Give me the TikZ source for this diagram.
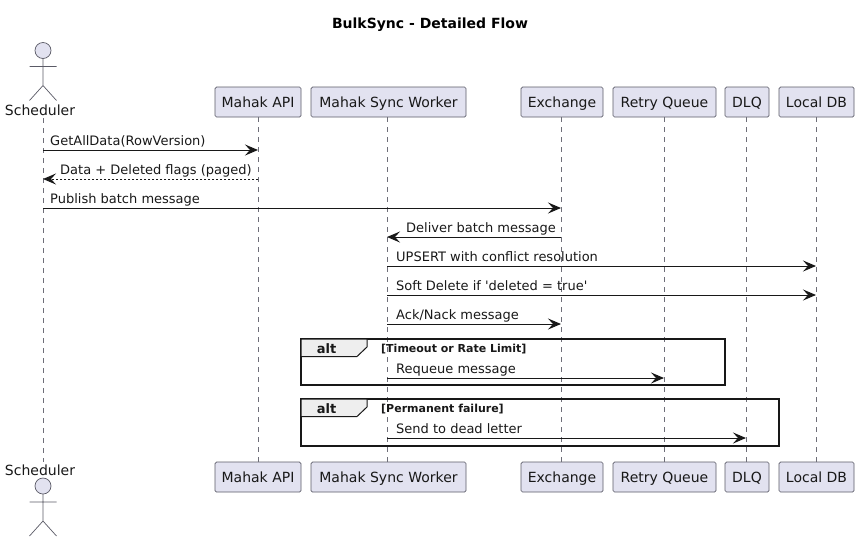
\documentclass[tikz,border=0pt]{standalone}
\usepackage{fontspec}
\setmainfont{DejaVu Sans}
\newfontfamily\rawfont{DejaVu Sans}
\usetikzlibrary{arrows.meta}
\definecolor{pfill}{HTML}{E2E2F0}
\definecolor{pline}{HTML}{5A5A66}
\definecolor{lifec}{HTML}{6E6E78}
\definecolor{ink}{HTML}{181818}
\definecolor{tabfill}{HTML}{EEEEEE}
\tikzset{
  x=1pt,y=-1pt,
  partbox/.style={draw=pline,fill=pfill,rounded corners=1.5pt,line width=0.7pt,minimum height=30pt,inner sep=0pt,text height=13pt,text depth=3pt,text=ink,font=\fontsize{14}{16}\selectfont},
  actlabel/.style={inner sep=0pt,anchor=base,text=ink,font=\fontsize{14}{16}\selectfont},
  actline/.style={draw=pline,line width=0.7pt},
  life/.style={draw=lifec,line width=0.6pt,dash pattern=on 5pt off 5pt},
  msg/.style={draw=ink,line width=1pt,-{Stealth[length=13pt,width=11pt,inset=5pt]}},
  ret/.style={msg,dash pattern=on 2pt off 2pt},
  msglabel/.style={anchor=base west,inner sep=0pt,text=ink,font=\fontsize{13}{15}\selectfont},
  frame/.style={draw=ink,line width=1.5pt},
  tab/.style={draw=ink,line width=1pt,fill=tabfill},
  altlabel/.style={inner sep=0pt,anchor=base,text=ink,font=\bfseries\fontsize{13}{15}\selectfont},
  guard/.style={inner sep=0pt,anchor=base west,text=ink,font=\bfseries\fontsize{11}{13}\selectfont}
}
\newcommand{\stickman}[2]{%
  \draw[actline,fill=pfill] (#1,#2) circle (8);
  \draw[actline] (#1,#2+8) -- (#1,#2+35) (#1-13.5,#2+16) -- (#1+13.5,#2+16) (#1-13.5,#2+50) -- (#1,#2+35) -- (#1+13.5,#2+50);
}
\begin{document}
\begin{tikzpicture}
\useasboundingbox (0,0) rectangle (859,542);
% title
\node[inner sep=0pt,anchor=base,text=black,font=\bfseries\fontsize{14}{16}\selectfont] (title) at (430,28) {BulkSync - Detailed Flow};
% rows
\coordinate (r1) at (0,150);
\coordinate (r2) at (0,179);
\coordinate (r3) at (0,208);
\coordinate (r4) at (0,237);
\coordinate (r5) at (0,266);
\coordinate (r6) at (0,295);
\coordinate (r7) at (0,324);
\coordinate (r8) at (0,378);
\coordinate (r9) at (0,438);
% life line ends
\coordinate (schT) at (43,118);
\coordinate (schB) at (43,462);
% participants
\node[partbox,minimum width=86pt] (apiT) at (258,102) {Mahak API};
\node[partbox,minimum width=155pt] (wrkT) at (388.5,102) {Mahak Sync Worker};
\node[partbox,minimum width=82pt] (excT) at (562,102) {Exchange};
\node[partbox,minimum width=103pt] (rtyT) at (664.5,102) {Retry Queue};
\node[partbox,minimum width=44pt] (dlqT) at (747,102) {DLQ};
\node[partbox,minimum width=75pt] (dbT) at (816.5,102) {Local DB};
\node[partbox,minimum width=86pt] (apiB) at (258,477) {Mahak API};
\node[partbox,minimum width=155pt] (wrkB) at (388.5,477) {Mahak Sync Worker};
\node[partbox,minimum width=82pt] (excB) at (562,477) {Exchange};
\node[partbox,minimum width=103pt] (rtyB) at (664.5,477) {Retry Queue};
\node[partbox,minimum width=44pt] (dlqB) at (747,477) {DLQ};
\node[partbox,minimum width=75pt] (dbB) at (816.5,477) {Local DB};
\coordinate (api) at (258,0);
\coordinate (wrk) at (387,0);
\coordinate (exc) at (561,0);
\coordinate (rty) at (664,0);
\coordinate (dlq) at (746,0);
\coordinate (db) at (816,0);
\coordinate (sch) at (43,0);
\draw[life] (schT) -- (schB);
\draw[life] (api |- apiT.south) -- (api |- apiB.north);
\draw[life] (wrk |- wrkT.south) -- (wrk |- wrkB.north);
\draw[life] (exc |- excT.south) -- (exc |- excB.north);
\draw[life] (rty |- rtyT.south) -- (rty |- rtyB.north);
\draw[life] (dlq |- dlqT.south) -- (dlq |- dlqB.north);
\draw[life] (db |- dbT.south) -- (db |- dbB.north);
% actors
\stickman{43}{50.5}
\node[actlabel] (schLT) at (40,115) {Scheduler};
\stickman{43}{486}
\node[actlabel] (schLB) at (40,475) {Scheduler};
% frames
\draw[frame] (301,339) rectangle (725,385);
\draw[tab] (301,339) -- (367,339) -- (367,347) -- (357,356.5) -- (301,356.5) -- cycle;
\node[altlabel] (alt1) at (326.5,353) {alt};
\node[guard] (g1) at (381,352) {[Timeout or Rate Limit]};
\draw[frame] (301,399) rectangle (779,446);
\draw[tab] (301,399) -- (367,399) -- (367,407) -- (357,416.5) -- (301,416.5) -- cycle;
\node[altlabel] (alt2) at (326.5,413) {alt};
\node[guard] (g2) at (381,412) {[Permanent failure]};
% messages
\draw[msg] (sch |- r1) -- (api |- r1);
\node[msglabel] (m1) at (50,145) {GetAllData(RowVersion)};
\draw[ret] (api |- r2) -- (sch |- r2);
\node[msglabel] (m2) at (60,174) {Data + Deleted flags (paged)};
\draw[msg] (sch |- r3) -- (exc |- r3);
\node[msglabel] (m3) at (50,203) {Publish batch message};
\draw[msg] (exc |- r4) -- (wrk |- r4);
\node[msglabel] (m4) at (406,232) {Deliver batch message};
\draw[msg] (wrk |- r5) -- (db |- r5);
\node[msglabel] (m5) at (396,261) {UPSERT with conflict resolution};
\draw[msg] (wrk |- r6) -- (db |- r6);
\node[msglabel] (m6) at (396,290) {\rawfont Soft Delete if 'deleted = true'};
\draw[msg] (wrk |- r7) -- (exc |- r7);
\node[msglabel] (m7) at (396,319) {Ack/Nack message};
\draw[msg] (wrk |- r8) -- (rty |- r8);
\node[msglabel] (m8) at (396,373) {Requeue message};
\draw[msg] (wrk |- r9) -- (dlq |- r9);
\node[msglabel] (m9) at (396,433) {Send to dead letter};
\end{tikzpicture}
\end{document}
